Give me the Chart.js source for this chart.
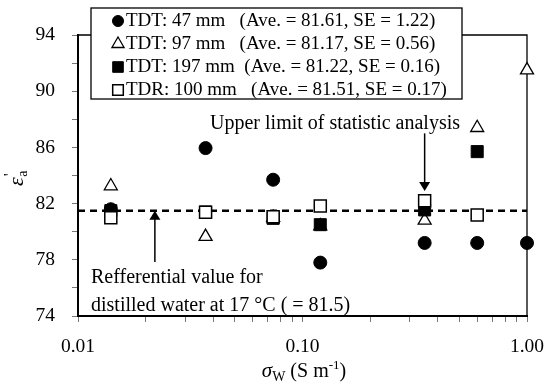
<!DOCTYPE html>
<html><head><meta charset="utf-8">
<script src="https://cdn.jsdelivr.net/npm/chart.js@4/dist/chart.umd.min.js"></script>
<style>html,body{margin:0;padding:0;background:#fff;overflow:hidden}canvas{display:block}</style>
</head><body>
<canvas id="c" width="544" height="384"></canvas>
<script>
// ---- data ----
const conductivity = [0.014, 0.037, 0.074, 0.12, 0.35, 0.60, 1.00];
const tdt47  = [81.6, 85.95, 83.7, 77.8, 79.2, 79.2, 79.2];
const tdt97  = [83.25, 79.65, 81.0, 80.4, 80.8, 87.4, 91.5];
const tdt197 = [81.5, 81.4, 80.95, 80.5, 81.55, 85.7, null];
const tdr100 = [81.0, 81.38, 81.07, 81.83, 82.2, 81.19, null];
const referenceValue = 81.5;
const seriesNames = [
  'TDT: 47 mm   (Ave. = 81.61, SE = 1.22)',
  'TDT: 97 mm   (Ave. = 81.17, SE = 0.56)',
  'TDT: 197 mm  (Ave. = 81.22, SE = 0.16)',
  'TDR: 100 mm   (Ave. = 81.51, SE = 0.17)'
];
const xTickValues = [0.01,0.02,0.03,0.04,0.05,0.06,0.07,0.08,0.09,0.1,0.2,0.3,0.4,0.5,0.6,0.7,0.8,0.9,1];
const xMajorTicks = [0.01, 0.1, 1];
const xMajorLabels = ['0.01', '0.10', '1.00'];
const yTickLabels = [74, 78, 82, 86, 90, 94];
const refArrowX = 0.022, refArrowFrom = 77.85;
const limitArrowX = 0.35, limitArrowFrom = 87.0, limitArrowTo = 82.9;

const FONT = '"Liberation Serif", "Times New Roman", serif';
const toPoints = arr => conductivity.map((x, i) => ({x, y: arr[i]})).filter(p => p.y !== null);

const markerStyles = [
  {pointStyle: 'circle',   radius: 6.5, fill: '#000', border: '#000', bw: 1},
  {pointStyle: 'triangle', radius: 7.5, fill: '#fff', border: '#000', bw: 1.3},
  {pointStyle: 'rect',     radius: 8.5, fill: '#000', border: '#000', bw: 1},
  {pointStyle: 'rect',     radius: 8.5, fill: '#fff', border: '#000', bw: 1.5}
];
const seriesData = [tdt47, tdt97, tdt197, tdr100];
const orders = [2, 4, 3, 1];

const datasets = seriesData.map((arr, i) => ({
  label: seriesNames[i],
  data: toPoints(arr),
  pointStyle: markerStyles[i].pointStyle,
  pointRadius: markerStyles[i].radius,
  pointBackgroundColor: markerStyles[i].fill,
  pointBorderColor: markerStyles[i].border,
  pointBorderWidth: markerStyles[i].bw,
  showLine: false,
  clip: false,
  order: orders[i]
}));
datasets.push({
  label: 'reference',
  data: [{x: 0.01, y: referenceValue}, {x: 1, y: referenceValue}],
  showLine: true,
  borderColor: '#000',
  borderWidth: 2.5,
  borderDash: [7, 5],
  pointRadius: 0,
  clip: false,
  order: 10
});

function arrow(ctx, x, y1, y2) {
  const dir = y2 > y1 ? 1 : -1;
  ctx.beginPath();
  ctx.moveTo(x, y1);
  ctx.lineTo(x, y2 - dir * 8);
  ctx.stroke();
  ctx.beginPath();
  ctx.moveTo(x, y2);
  ctx.lineTo(x - 5.5, y2 - dir * 9);
  ctx.lineTo(x + 5.5, y2 - dir * 9);
  ctx.closePath();
  ctx.fill();
}

const decor = {
  id: 'decor',
  beforeDatasetsDraw(chart) {
    const {ctx, chartArea: a} = chart;
    ctx.save();
    ctx.strokeStyle = '#000';
    ctx.lineWidth = 1.3;
    ctx.beginPath();
    ctx.moveTo(a.left, a.top);
    ctx.lineTo(a.right, a.top);
    ctx.lineTo(a.right, a.bottom);
    ctx.stroke();
    ctx.restore();
  },
  afterDraw(chart) {
    const {ctx, scales: {x, y}} = chart;
    ctx.save();
    ctx.fillStyle = '#000';
    ctx.strokeStyle = '#000';
    ctx.lineWidth = 1.5;
    // annotations
    arrow(ctx, x.getPixelForValue(refArrowX), y.getPixelForValue(refArrowFrom), y.getPixelForValue(referenceValue));
    arrow(ctx, x.getPixelForValue(limitArrowX), y.getPixelForValue(limitArrowFrom), y.getPixelForValue(limitArrowTo));
    ctx.font = '20px ' + FONT;
    ctx.textBaseline = 'alphabetic';
    ctx.textAlign = 'left';
    ctx.fillText('Refferential value for', 91, 283);
    ctx.fillText('distilled water at 17 °C ( = 81.5)', 91, 311);
    ctx.textAlign = 'right';
    ctx.fillText('Upper limit of statistic analysis', 460, 129);

    // legend box
    const bx = 91, by = 8, bw = 371, bh = 91;
    ctx.fillStyle = '#fff';
    ctx.fillRect(bx, by, bw, bh);
    ctx.lineWidth = 1.3;
    ctx.strokeRect(bx, by, bw, bh);
    ctx.font = '19px ' + FONT;
    ctx.textAlign = 'left';
    ctx.textBaseline = 'middle';
    seriesNames.forEach((name, i) => {
      const cy = 20 + i * 23;
      const m = markerStyles[i];
      ctx.fillStyle = m.fill;
      ctx.strokeStyle = m.border;
      ctx.lineWidth = m.bw;
      const r = m.pointStyle === 'circle' ? 5.5 : (m.pointStyle === 'triangle' ? 7 : 7.5);
      Chart.helpers.drawPoint(ctx, {pointStyle: m.pointStyle, radius: r, borderWidth: m.bw, rotation: 0}, 118, cy + 1);
      ctx.fillStyle = '#000';
      ctx.fillText(name, 126, cy + 1);
    });

    // x axis title: sigma_W (S m^-1)
    const parts = [
      {t: 'σ', f: 'italic 21px ' + FONT, dy: 0},
      {t: 'W', f: '14px ' + FONT, dy: 4},
      {t: ' (S m', f: '20px ' + FONT, dy: 0},
      {t: '-1', f: '13px ' + FONT, dy: -8},
      {t: ')', f: '20px ' + FONT, dy: 0}
    ];
    ctx.textBaseline = 'alphabetic';
    let total = 0;
    parts.forEach(p => { ctx.font = p.f; p.w = ctx.measureText(p.t).width; total += p.w; });
    let px = 304 - total / 2;
    parts.forEach(p => { ctx.font = p.f; ctx.fillText(p.t, px, 377 + p.dy); px += p.w; });

    // y axis title: epsilon'_a
    ctx.translate(23, 186);
    ctx.rotate(-Math.PI / 2);
    ctx.font = 'italic 22px ' + FONT;
    ctx.fillText('ε', 0, 0);
    const ew = ctx.measureText('ε').width;
    ctx.font = '16px ' + FONT;
    ctx.fillText('\'', ew + 1, -8);
    ctx.font = '14px ' + FONT;
    ctx.fillText('a', ew + 0.5, 4);
    ctx.restore();
  }
};

Chart.defaults.font.family = FONT;
Chart.defaults.font.size = 19.5;
Chart.defaults.color = '#000';

new Chart(document.getElementById('c'), {
  type: 'scatter',
  data: {datasets},
  options: {
    responsive: false,
    devicePixelRatio: 1,
    animation: false,
    layout: {padding: {left: 0, top: 35, right: 17, bottom: 0}},
    plugins: {legend: {display: false}, tooltip: {enabled: false}},
    scales: {
      x: {
        type: 'logarithmic',
        min: 0.01, max: 1,
        afterBuildTicks(scale) { scale.ticks = xTickValues.map(v => ({value: v})); },
        afterFit(scale) { scale.height = 68; scale.paddingLeft = 0; scale.paddingRight = 0; },
        ticks: {
          autoSkip: false, maxRotation: 0, padding: 13,
          callback(v) {
            const k = xMajorTicks.findIndex(m => Math.abs(Math.log10(m) - Math.log10(v)) < 1e-6);
            return k >= 0 ? xMajorLabels[k] : '';
          }
        },
        grid: {drawOnChartArea: false, drawTicks: true, tickLength: 6, color: '#777', lineWidth: 1},
        border: {display: true, color: '#000', width: 2}
      },
      y: {
        min: 74, max: 94,
        afterFit(scale) { scale.width = 78; scale.paddingTop = 0; scale.paddingBottom = 0; },
        ticks: {
          stepSize: 2, padding: 17, autoSkip: false,
          callback(v) { return yTickLabels.includes(v) ? String(v) : ''; }
        },
        grid: {drawOnChartArea: false, drawTicks: true, tickLength: 6, color: '#777', lineWidth: 1},
        border: {display: true, color: '#000', width: 2}
      }
    }
  },
  plugins: [decor]
});
</script>
</body></html>
